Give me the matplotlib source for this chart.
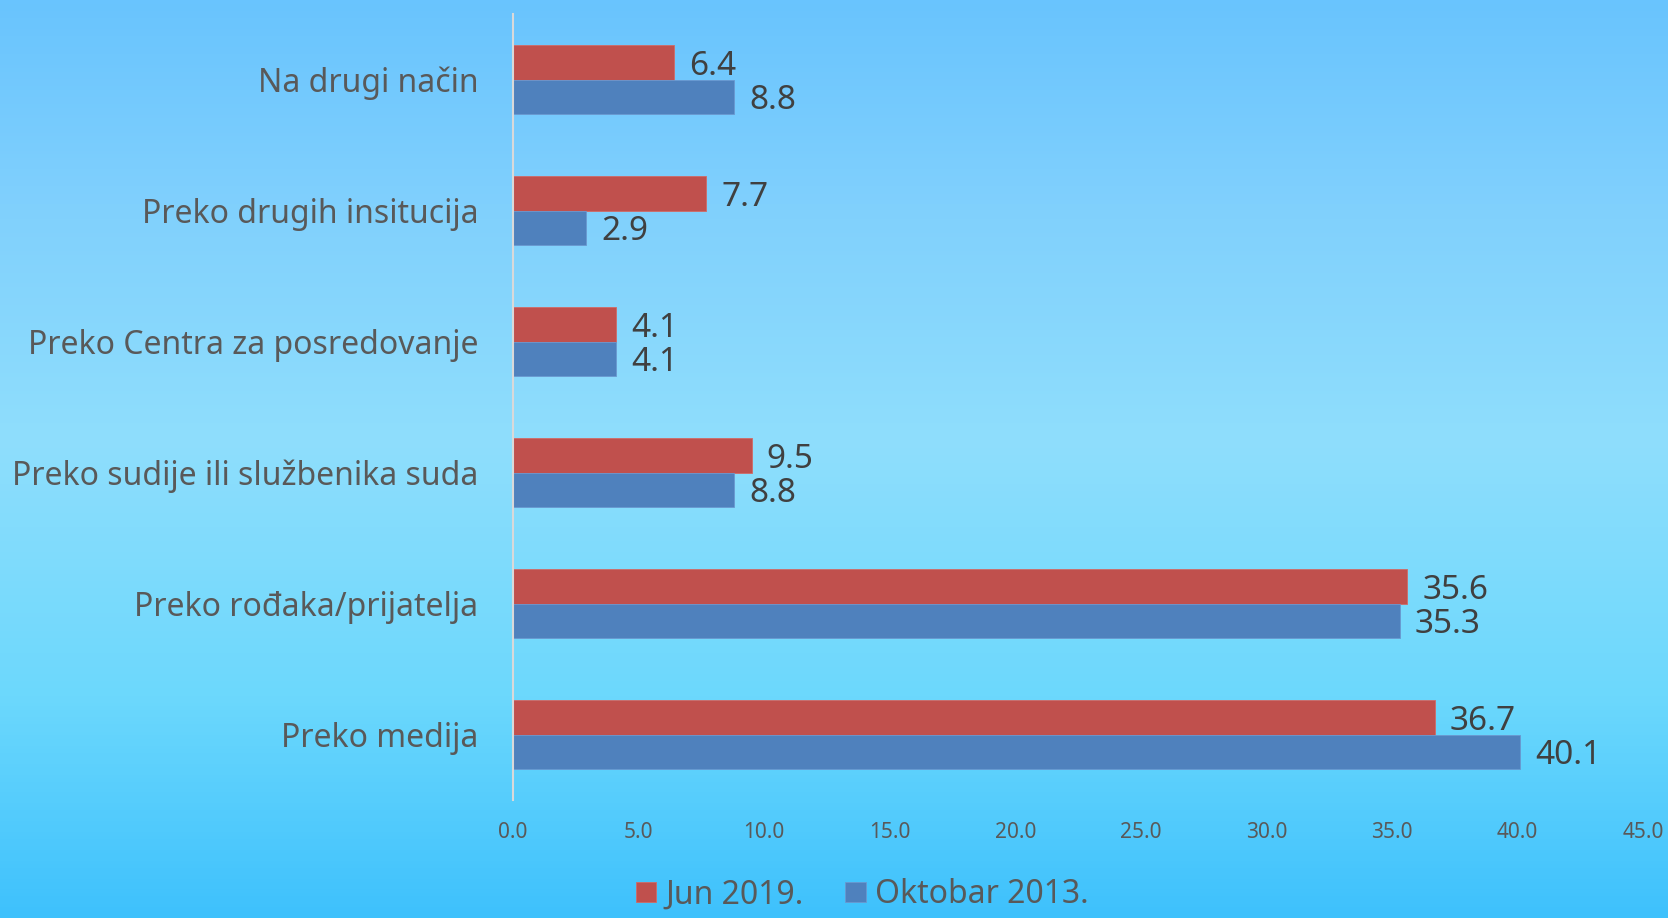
import numpy as np
import matplotlib
matplotlib.use('Agg')
import matplotlib.pyplot as plt
from matplotlib.colors import LinearSegmentedColormap

categories = ['Preko medija', 'Preko rođaka/prijatelja', 'Preko sudije ili službenika suda',
              'Preko Centra za posredovanje', 'Preko drugih insitucija', 'Na drugi način']
jun2019 = [36.7, 35.6, 9.5, 4.1, 7.7, 6.4]
okt2013 = [40.1, 35.3, 8.8, 4.1, 2.9, 8.8]
series_names = ['Jun 2019.', 'Oktobar 2013.']
xticks = [0, 5, 10, 15, 20, 25, 30, 35, 40, 45]

red = '#C0504D'
blue = '#4F81BD'
font = 'Noto Sans'

fig = plt.figure(figsize=(16.68, 9.18), dpi=100)

# background gradient
bg = fig.add_axes([0, 0, 1, 1], zorder=-10)
cmap = LinearSegmentedColormap.from_list('bg', [
    (0.0, '#69C4FE'), (0.22, '#80D0FD'), (0.48, '#8FDEFC'),
    (0.76, '#6CD8FD'), (1.0, '#3EC1FC')])
grad = np.linspace(0, 1, 256).reshape(-1, 1)
bg.imshow(grad, aspect='auto', cmap=cmap, extent=[0, 1, 0, 1])
bg.axis('off')

ax = fig.add_axes([0.3076, 0.1285, 0.6775, 0.8562])
ax.patch.set_alpha(0)
y = np.arange(len(categories))
h = 0.26
ax.barh(y + h / 2, jun2019, height=h, color=red, edgecolor='#D06A66', linewidth=0.6, label=series_names[0])
ax.barh(y - h / 2, okt2013, height=h, color=blue, edgecolor='#6A98D0', linewidth=0.6, label=series_names[1])

for i in range(len(categories)):
    ax.text(jun2019[i] + 0.6, y[i] + h / 2 - 0.03, '%.1f' % jun2019[i], va='center', ha='left',
            fontsize=24, color='#404040', family=font)
    ax.text(okt2013[i] + 0.6, y[i] - h / 2 - 0.03, '%.1f' % okt2013[i], va='center', ha='left',
            fontsize=24, color='#404040', family=font)

ax.set_xlim(0, 45)
ax.set_ylim(-0.5, 5.5)
ax.set_xticks(xticks)
ax.set_xticklabels(['%.1f' % t for t in xticks], fontsize=15, color='#595959', family=font)
ax.set_yticks(y)
ax.set_yticklabels(categories, fontsize=23, color='#595959', family=font)
for lbl in ax.get_yticklabels():
    lbl.set_va('center_baseline')
ax.tick_params(axis='both', length=0)
ax.tick_params(axis='x', pad=16)
ax.tick_params(axis='y', pad=25)
for s in ['top', 'right', 'bottom']:
    ax.spines[s].set_visible(False)
ax.spines['left'].set_color('#D9D9D9')
ax.spines['left'].set_linewidth(1.5)

fig.legend(loc='lower center', bbox_to_anchor=(0.517, -0.024), ncol=2, frameon=False,
           prop={'family': font, 'size': 23}, labelcolor='#595959',
           handlelength=0.63, handleheight=0.63, handletextpad=0.3, columnspacing=1.3)

fig.savefig('out.png', dpi=100)
